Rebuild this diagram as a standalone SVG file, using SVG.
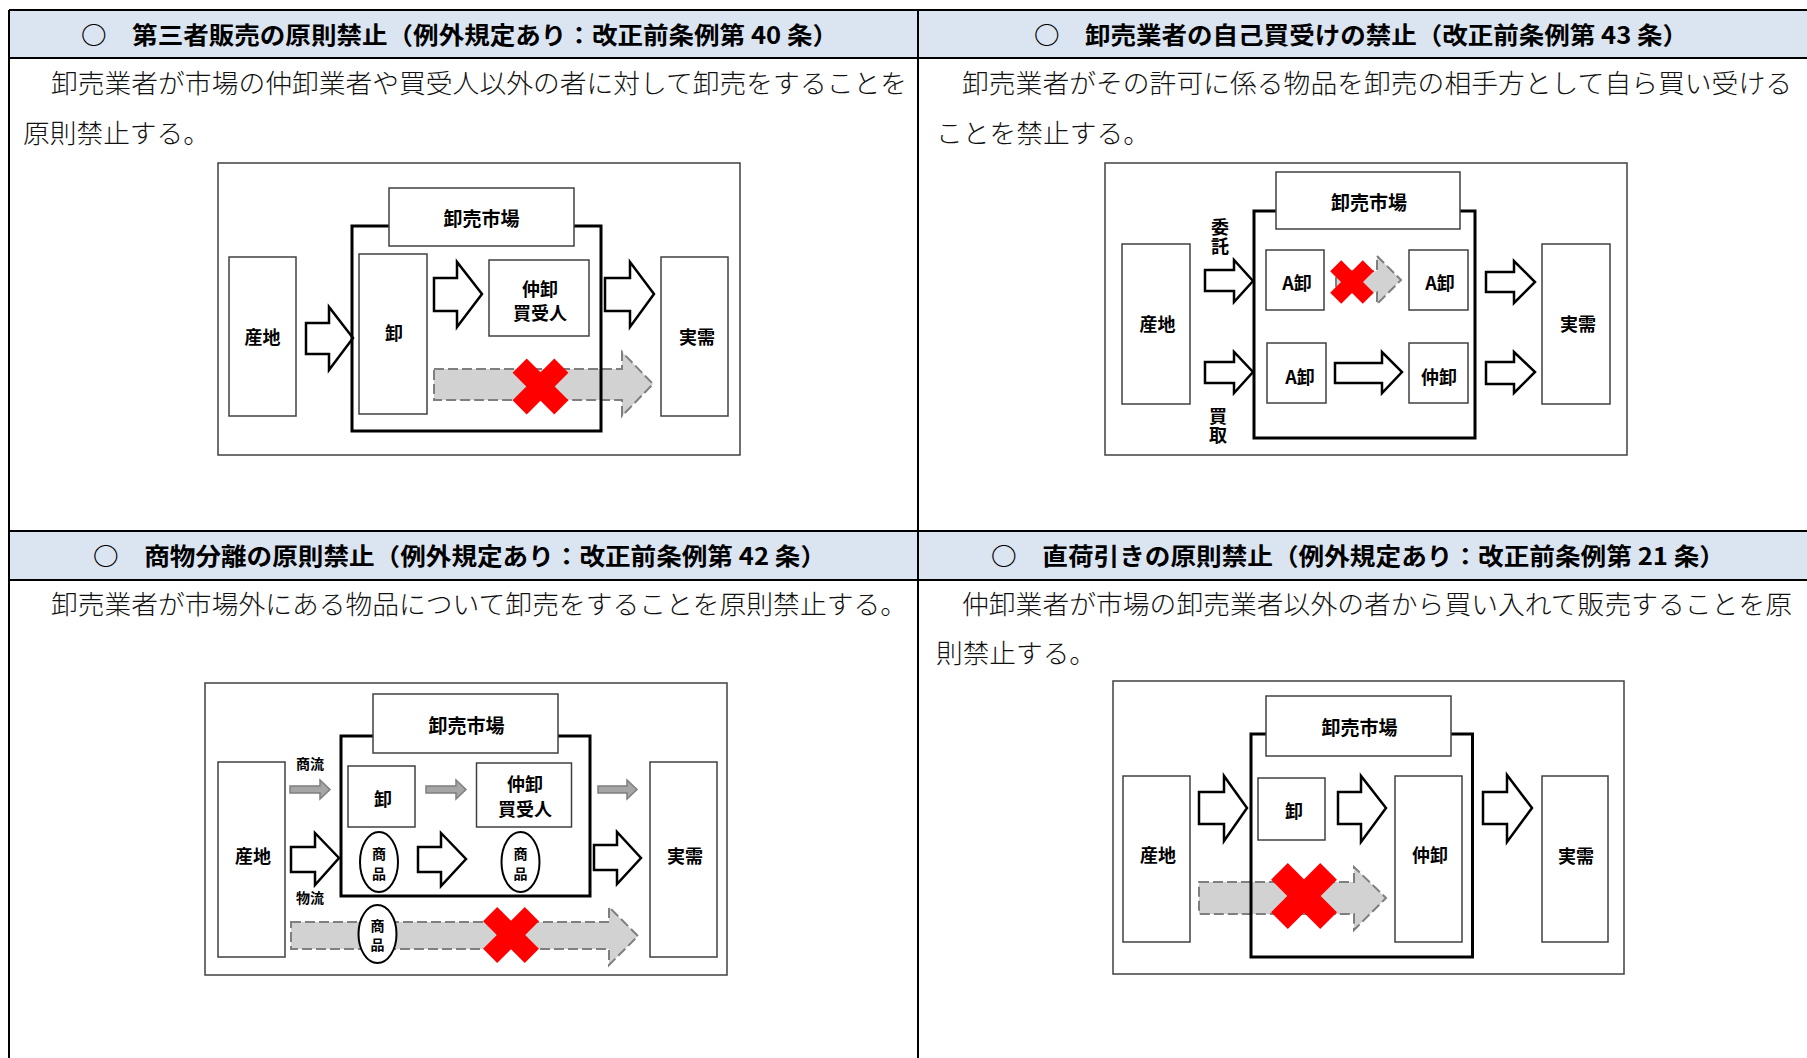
<svg xmlns="http://www.w3.org/2000/svg" width="1807" height="1058" viewBox="0 0 1807 1058">
<style>
.grid{stroke:#000;stroke-width:2;fill:none}
.hdr{fill:#dbe5f1}
.ht{font-family:"Noto Sans CJK JP",sans-serif;font-weight:bold;font-size:24px;fill:#000}
.bt{font-family:"Noto Sans CJK JP",sans-serif;font-weight:300;font-size:26px;fill:#111}
.frame{fill:#fff;stroke:#404040;stroke-width:1.5}
.mkt{fill:none;stroke:#000;stroke-width:3}
.box{fill:#fff;stroke:#404040;stroke-width:1.5}
.lbl{font-family:"Noto Sans CJK JP",sans-serif;font-weight:bold;font-size:18px;fill:#000;text-anchor:middle;dominant-baseline:central}
.vert{font-family:"Noto Sans CJK JP",sans-serif;font-weight:bold;font-size:18px;fill:#000;writing-mode:vertical-rl;letter-spacing:1px}
.big{font-size:19px}
.sm{font-size:14px}
.arw{fill:#fff;stroke:#000;stroke-width:2.5}
.ghost{fill:#a6a6a6;fill-opacity:0.5;stroke:#7f7f7f;stroke-width:2;stroke-dasharray:10 4}
.thin{fill:#a6a6a6;stroke:#7f7f7f;stroke-width:1.5}
.x{fill:#ff0000}
.ell{fill:#fff;stroke:#000;stroke-width:2}
</style>
<defs>
<g id="xmark"><rect x="-29.5" y="-10" width="59" height="20" transform="rotate(45)"/><rect x="-29.5" y="-10" width="59" height="20" transform="rotate(-45)"/></g>
</defs>

<g id="table">
<rect class="hdr" x="9" y="10" width="1798" height="48"/>
<rect class="hdr" x="9" y="531" width="1798" height="49"/>
<path class="grid" d="M9 10H1807M9 58H1807M9 531H1807M9 580H1807M9 10V1058M918 10V1058"/>
</g>

<g id="texts">
<text class="ht" x="81" y="44" textLength="757" lengthAdjust="spacingAndGlyphs">○　第三者販売の原則禁止（例外規定あり：改正前条例第 40 条）</text>
<text class="ht" x="1034" y="44" textLength="654" lengthAdjust="spacingAndGlyphs">○　卸売業者の自己買受けの禁止（改正前条例第 43 条）</text>
<text class="ht" x="93" y="565" textLength="733" lengthAdjust="spacingAndGlyphs">○　商物分離の原則禁止（例外規定あり：改正前条例第 42 条）</text>
<text class="ht" x="991" y="565" textLength="734" lengthAdjust="spacingAndGlyphs">○　直荷引きの原則禁止（例外規定あり：改正前条例第 21 条）</text>
<text class="bt" x="51" y="93" textLength="856" lengthAdjust="spacingAndGlyphs">卸売業者が市場の仲卸業者や買受人以外の者に対して卸売をすることを</text>
<text class="bt" x="23" y="143" textLength="187" lengthAdjust="spacingAndGlyphs">原則禁止する。</text>
<text class="bt" x="962" y="93" textLength="830" lengthAdjust="spacingAndGlyphs">卸売業者がその許可に係る物品を卸売の相手方として自ら買い受ける</text>
<text class="bt" x="936" y="143" textLength="214" lengthAdjust="spacingAndGlyphs">ことを禁止する。</text>
<text class="bt" x="51" y="614" textLength="856" lengthAdjust="spacingAndGlyphs">卸売業者が市場外にある物品について卸売をすることを原則禁止する。</text>
<text class="bt" x="962" y="614" textLength="830" lengthAdjust="spacingAndGlyphs">仲卸業者が市場の卸売業者以外の者から買い入れて販売することを原</text>
<text class="bt" x="936" y="663" textLength="160" lengthAdjust="spacingAndGlyphs">則禁止する。</text>
</g>

<!-- Diagram 1 -->
<g id="d1">
<rect class="frame" x="218" y="163" width="522" height="292"/>
<g id="d1-santi"><rect class="box" x="229" y="257" width="67" height="159"/><text class="lbl" x="262.5" y="336">産地</text></g>
<g id="d1-oroshi"><rect class="box" x="359" y="254" width="68" height="160"/><text class="lbl" x="394" y="332">卸</text></g>
<g id="d1-naka"><rect class="box" x="489" y="260" width="100" height="76"/><text class="lbl" x="540" y="288">仲卸</text><text class="lbl" x="540" y="312">買受人</text></g>
<g id="d1-jiju"><rect class="box" x="661" y="257" width="67" height="159"/><text class="lbl" x="697" y="336">実需</text></g>
<g id="d1-conn">
<polygon class="arw" points="306,323 329,323 329,307 353,338 329,370 329,354 306,354"/>
<polygon class="arw" points="434,278 457,278 457,262 482,294 457,327 457,311 434,311"/>
<polygon class="arw" points="605,278 630,278 630,262 654,294 630,327 630,311 605,311"/>
<polygon class="ghost" points="434,369 622,369 622,352 653,384 622,416 622,400 434,400"/>
</g>
<g id="d1-market"><rect class="mkt" x="352" y="226" width="249" height="205"/><rect class="box" x="389" y="188" width="185" height="58"/><text class="lbl big" x="481.5" y="217">卸売市場</text></g>
<use href="#xmark" class="x" x="540.5" y="386.5"/>
</g>

<!-- Diagram 2 -->
<g id="d2">
<rect class="frame" x="1105" y="163" width="522" height="292"/>
<g id="d2-market"><rect class="mkt" x="1254" y="211" width="221" height="227"/><rect class="box" x="1276" y="172" width="184" height="57"/><text class="lbl big" x="1369" y="201">卸売市場</text></g>
<g id="d2-santi"><rect class="box" x="1122" y="244" width="68" height="160"/><text class="lbl" x="1157.5" y="323">産地</text></g>
<g id="d2-itaku"><text class="vert" x="1220" y="218">委託</text></g>
<g id="d2-kaitori"><text class="vert" x="1218" y="407">買取</text></g>
<g id="d2-a1"><rect class="box" x="1266" y="250" width="58" height="60"/><text class="lbl" x="1297" y="282">A卸</text></g>
<g id="d2-a2"><rect class="box" x="1409" y="250" width="59" height="60"/><text class="lbl" x="1440" y="282">A卸</text></g>
<g id="d2-a3"><rect class="box" x="1267" y="343" width="59" height="60"/><text class="lbl" x="1300" y="376">A卸</text></g>
<g id="d2-naka"><rect class="box" x="1409" y="343" width="59" height="60"/><text class="lbl" x="1439" y="376">仲卸</text></g>
<g id="d2-jiju"><rect class="box" x="1542" y="244" width="68" height="160"/><text class="lbl" x="1578" y="323">実需</text></g>
<g id="d2-conn">
<polygon class="arw" points="1205,270 1234,270 1234,260 1253,281 1234,302 1234,291 1205,291"/>
<polygon class="arw" points="1205,362 1234,362 1234,352 1253,372 1234,393 1234,383 1205,383"/>
<polygon class="ghost" points="1336,271 1377,271 1377,256 1401,280 1377,304 1377,292 1336,292"/>
<polygon class="arw" points="1335,363 1382,363 1382,352 1402,372 1382,393 1382,383 1335,383"/>
<polygon class="arw" points="1486,272 1514,272 1514,261 1535,282 1514,303 1514,292 1486,292"/>
<polygon class="arw" points="1486,362 1514,362 1514,352 1535,372 1514,393 1514,384 1486,384"/>
</g>
<g class="x" transform="translate(1352,282) scale(0.78)"><use href="#xmark"/></g>
</g>

<!-- Diagram 3 -->
<g id="d3">
<rect class="frame" x="205" y="683" width="522" height="292"/>
<g id="d3-market"><rect class="mkt" x="341" y="736" width="249" height="160"/><rect class="box" x="373" y="694" width="185" height="59"/><text class="lbl big" x="466.5" y="724">卸売市場</text></g>
<g id="d3-santi"><rect class="box" x="218" y="762" width="67" height="195"/><text class="lbl" x="253" y="855">産地</text></g>
<g id="d3-oroshi"><rect class="box" x="348" y="766" width="67" height="61"/><text class="lbl" x="383" y="798">卸</text></g>
<g id="d3-naka"><rect class="box" x="476.5" y="763" width="95" height="64"/><text class="lbl" x="525" y="783">仲卸</text><text class="lbl" x="525" y="808">買受人</text></g>
<g id="d3-jiju"><rect class="box" x="650" y="762" width="67" height="195"/><text class="lbl" x="685" y="855">実需</text></g>
<text class="lbl sm" x="310" y="763">商流</text>
<text class="lbl sm" x="310" y="897">物流</text>
<g id="d3-conn">
<polygon class="thin" points="290,786 320,786 320,780 330,789.5 320,799 320,793 290,793"/>
<polygon class="thin" points="426,786 456,786 456,780 466,789.5 456,799 456,793 426,793"/>
<polygon class="thin" points="598,786 627,786 627,780 637,789.5 627,799 627,793 598,793"/>
<polygon class="arw" points="291,847 315,847 315,833 339,858 315,885 315,872 291,872"/>
<polygon class="arw" points="418,847 441,847 441,833 466,859 441,886 441,872 418,872"/>
<polygon class="arw" points="594,845 617,845 617,832 641,858 617,884 617,870 594,870"/>
<polygon class="ghost" points="291,922 609,922 609,907 638,936 609,965 609,949 291,949"/>
</g>
<g id="d3-goods1"><ellipse class="ell" cx="379" cy="862" rx="19" ry="30"/><text class="lbl sm" x="379" y="853">商</text><text class="lbl sm" x="379" y="873">品</text></g>
<g id="d3-goods2"><ellipse class="ell" cx="520.5" cy="862" rx="19" ry="30"/><text class="lbl sm" x="520.5" y="853">商</text><text class="lbl sm" x="520.5" y="873">品</text></g>
<g id="d3-goods3"><ellipse class="ell" cx="377.5" cy="934" rx="19" ry="29"/><text class="lbl sm" x="377.5" y="925">商</text><text class="lbl sm" x="377.5" y="944">品</text></g>
<use href="#xmark" class="x" x="511" y="935"/>
</g>

<!-- Diagram 4 -->
<g id="d4">
<rect class="frame" x="1113" y="681" width="511" height="293"/>
<g id="d4-santi"><rect class="box" x="1123" y="776" width="67" height="166"/><text class="lbl" x="1158" y="854">産地</text></g>
<g id="d4-oroshi"><rect class="box" x="1258" y="778" width="67" height="62"/><text class="lbl" x="1294" y="810">卸</text></g>
<g id="d4-naka"><rect class="box" x="1395" y="776" width="67" height="166"/><text class="lbl" x="1430" y="854">仲卸</text></g>
<g id="d4-jiju"><rect class="box" x="1542" y="776" width="66" height="166"/><text class="lbl" x="1576" y="855">実需</text></g>
<g id="d4-conn">
<polygon class="arw" points="1199,792 1224,792 1224,776 1247,808 1224,841 1224,824 1199,824"/>
<polygon class="arw" points="1338,792 1361,792 1361,776 1386,808 1361,842 1361,824 1338,824"/>
<polygon class="arw" points="1483,792 1507,792 1507,775 1532,808 1507,842 1507,824 1483,824"/>
<polygon class="ghost" points="1199,882 1354,882 1354,867 1386,898 1354,930 1354,914 1199,914"/>
</g>
<g id="d4-market"><rect class="mkt" x="1251" y="734" width="221.5" height="223"/><rect class="box" x="1266" y="696" width="185" height="60"/><text class="lbl big" x="1359.5" y="726">卸売市場</text></g>
<g class="x" transform="translate(1304,896) scale(1.18)"><use href="#xmark"/></g>
</g>
</svg>
